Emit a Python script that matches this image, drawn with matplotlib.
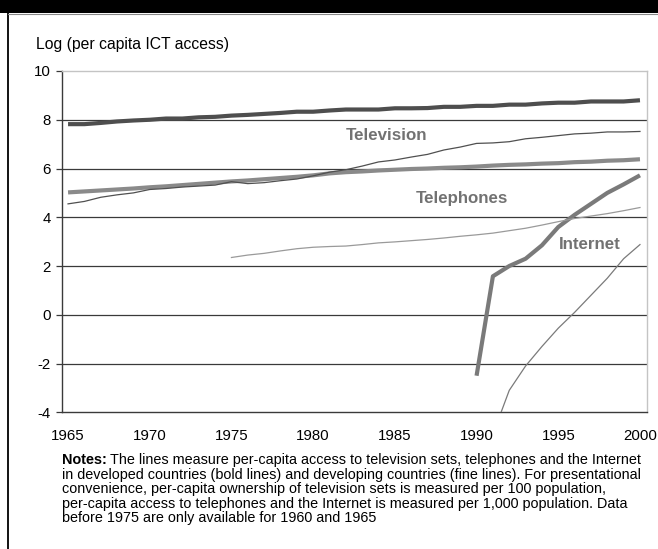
import matplotlib
matplotlib.use("Agg")
import matplotlib.pyplot as plt
from matplotlib.patches import Rectangle
from matplotlib.lines import Line2D

plt.rcParams['font.family'] = ['Liberation Sans', 'DejaVu Sans']
plt.rcParams['axes.unicode_minus'] = False

# ---- data: log per-capita ICT access ----
years = list(range(1965, 2001))

tv_developed = [7.82, 7.82, 7.87, 7.93, 7.97, 8.00, 8.05, 8.05, 8.10, 8.12,
                8.17, 8.20, 8.24, 8.28, 8.33, 8.33, 8.38, 8.42, 8.42, 8.42,
                8.47, 8.47, 8.48, 8.53, 8.53, 8.57, 8.57, 8.62, 8.62, 8.67,
                8.70, 8.70, 8.75, 8.75, 8.75, 8.80]

tv_developing = [4.55, 4.65, 4.82, 4.92, 5.00, 5.14, 5.18, 5.24, 5.28, 5.32,
                 5.46, 5.38, 5.42, 5.50, 5.57, 5.70, 5.85, 5.95, 6.10, 6.27,
                 6.35, 6.47, 6.58, 6.76, 6.88, 7.03, 7.05, 7.10, 7.22, 7.28,
                 7.35, 7.42, 7.45, 7.50, 7.50, 7.52]

phone_developed = [5.02, 5.06, 5.10, 5.14, 5.18, 5.23, 5.27, 5.32, 5.37, 5.42,
                   5.47, 5.51, 5.56, 5.61, 5.66, 5.72, 5.80, 5.85, 5.88, 5.92,
                   5.95, 5.98, 6.00, 6.03, 6.05, 6.08, 6.12, 6.15, 6.17, 6.20,
                   6.22, 6.26, 6.28, 6.32, 6.34, 6.38]

phone_years = list(range(1975, 2001))
phone_developing = [2.35, 2.45, 2.52, 2.62, 2.71, 2.77, 2.80, 2.82, 2.88, 2.95,
                    2.99, 3.04, 3.09, 3.15, 3.22, 3.28, 3.35, 3.45, 3.55, 3.68,
                    3.82, 3.95, 4.05, 4.15, 4.27, 4.40]

net_dev_years = list(range(1990, 2001))
internet_developed = [-2.5, 1.58, 2.0, 2.3, 2.85, 3.6, 4.1, 4.55, 5.0, 5.35, 5.72]

net_ldc_years = list(range(1991, 2001))
internet_developing = [-4.9, -3.1, -2.1, -1.3, -0.55, 0.1, 0.8, 1.5, 2.3, 2.88]

x_ticks = [1965, 1970, 1975, 1980, 1985, 1990, 1995, 2000]
y_ticks = [-4, -2, 0, 2, 4, 6, 8, 10]

W, H = 658, 549
fig = plt.figure(figsize=(W / 100, H / 100), dpi=100)

def fx(px):
    return px / W

def fy(py):
    return 1 - py / H

# black header band and frame
fig.add_artist(Rectangle((0, fy(13)), 1, 13 / H, transform=fig.transFigure,
                         facecolor='black', edgecolor='none', zorder=0))
fig.add_artist(Line2D([fx(8), fx(8)], [0, fy(13)], transform=fig.transFigure,
                      color='black', lw=1.3))
fig.add_artist(Line2D([fx(8), 1], [fy(13.5), fy(13.5)], transform=fig.transFigure,
                      color='#888888', lw=0.8))

ax_l, ax_r, ax_t, ax_b = 62, 647, 71, 412.3
ax = fig.add_axes([fx(ax_l), fy(ax_b), (ax_r - ax_l) / W, (ax_b - ax_t) / H])

ax.set_xlim(1964.63, 2000.43)
ax.set_ylim(-4, 10)

for v in [-2, 0, 2, 4, 6, 8]:
    ax.axhline(v, color='#3a3a3a', lw=0.9, zorder=1)

bold_lw = 3.0
fine_lw = 0.9
ax.plot(years, tv_developed, color='#4e4e4e', lw=bold_lw, zorder=3,
        solid_capstyle='butt')
ax.plot(years, phone_developed, color='#8a8a8a', lw=bold_lw, zorder=3,
        solid_capstyle='butt')
ax.plot(net_dev_years, internet_developed, color='#7a7a7a', lw=bold_lw, zorder=3,
        solid_capstyle='butt')
ax.plot(years, tv_developing, color='#505050', lw=fine_lw, zorder=4)
ax.plot(phone_years, phone_developing, color='#9a9a9a', lw=fine_lw, zorder=4)
ax.plot(net_ldc_years, internet_developing, color='#7a7a7a', lw=fine_lw, zorder=4)

label_kw = dict(color='#727272', fontsize=12.2, fontweight='bold',
                ha='center', va='center', zorder=5)
ax.text(1984.5, 7.37, 'Television', **label_kw)
ax.text(1989.1, 4.77, 'Telephones', **label_kw)
ax.text(1996.95, 2.9, 'Internet', **label_kw)

ax.set_xticks(x_ticks)
ax.set_yticks(y_ticks)
ax.tick_params(axis='x', length=0, pad=12, labelsize=10.8, labelcolor='black')
ax.tick_params(axis='y', length=4, width=0.9, pad=4, labelsize=10.8,
               direction='out', color='#3a3a3a')

for side in ['top', 'right']:
    ax.spines[side].set_color('#c4c4c4')
    ax.spines[side].set_linewidth(1.0)
for side in ['left', 'bottom']:
    ax.spines[side].set_color('#3a3a3a')
    ax.spines[side].set_linewidth(1.0)

fig.text(fx(36), fy(45), 'Log (per capita ICT access)', fontsize=11.3,
         ha='left', va='center')

# notes block below the chart
note_fs = 10.35
note_x = fx(62)
first_y = fy(460)
lead = fig.text(note_x, first_y, 'Notes:', fontsize=note_fs, fontweight='bold',
                ha='left', va='center')
renderer = fig.canvas.get_renderer()
bb = lead.get_window_extent(renderer=renderer)
fig.text((bb.x1 + 3) / W, first_y,
         'The lines measure per-capita access to television sets, telephones and the Internet',
         fontsize=note_fs, ha='left', va='center')
rest = ['in developed countries (bold lines) and developing countries (fine lines). For presentational',
        'convenience, per-capita ownership of television sets is measured per 100 population,',
        'per-capita access to telephones and the Internet is measured per 1,000 population. Data',
        'before 1975 are only available for 1960 and 1965']
for i, line in enumerate(rest):
    fig.text(note_x, fy(460 + 14.6 * (i + 1)), line, fontsize=note_fs,
             ha='left', va='center')

fig.savefig('out.png', dpi=100)
